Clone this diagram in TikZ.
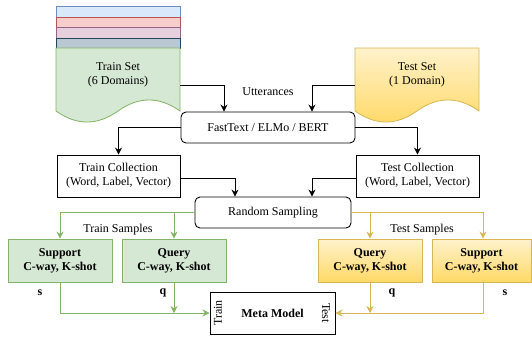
\documentclass[tikz,border=0pt]{standalone}
\usepackage{fontspec}
\setmainfont{Liberation Serif}
\usetikzlibrary{arrows.meta}
\definecolor{gfill}{HTML}{D5E8D4}
\definecolor{gline}{HTML}{82B366}
\definecolor{bfill}{HTML}{DAE8FC}
\definecolor{bline}{HTML}{6C8EBF}
\definecolor{rfill}{HTML}{F8CECC}
\definecolor{rline}{HTML}{B85450}
\definecolor{pfill}{HTML}{E6D0DE}
\definecolor{pline}{HTML}{996185}
\definecolor{dfill}{HTML}{BAC8D3}
\definecolor{dline}{HTML}{23445D}
\definecolor{ylight}{HTML}{FFF2CC}
\definecolor{ydark}{HTML}{FFD966}
\definecolor{yline}{HTML}{D6B656}
\begin{document}
\begin{tikzpicture}[x=1pt,y=-1pt,
  font=\fontsize{12}{14}\selectfont,
  box/.style={draw=black, line width=0.9pt, align=center, inner sep=0pt},
  rbox/.style={box, rounded corners=5pt},
  gbox/.style={draw=gline, fill=gfill, line width=0.9pt, align=center, inner sep=0pt, font=\fontsize{12}{14}\selectfont\bfseries, minimum width=104pt, minimum height=43pt},
  ybox/.style={draw=yline, top color=ylight, bottom color=ydark, line width=0.9pt, align=center, inner sep=0pt, font=\fontsize{12}{14}\selectfont\bfseries, minimum height=43pt},
  arr/.style={draw=black, line width=0.8pt, -{Stealth[length=7pt,width=7pt]}},
  garr/.style={draw=gline, line width=0.8pt, -{Stealth[length=7pt,width=7pt]}},
  yarr/.style={draw=yline, line width=0.8pt, -{Stealth[length=7pt,width=7pt]}},
  lbl/.style={inner sep=0pt}
]
\useasboundingbox (0,0) rectangle (532,338);
% Train set stack
\filldraw[fill=bfill, draw=bline, line width=0.8pt] (56,6) rectangle (180,17);
\filldraw[fill=rfill, draw=rline, line width=0.8pt] (56,17) rectangle (180,27);
\filldraw[fill=pfill, draw=pline, line width=0.8pt] (56,27) rectangle (180,38);
\filldraw[fill=dfill, draw=dline, line width=0.8pt] (56,38) rectangle (180,48);
\filldraw[fill=gfill, draw=gline, line width=0.8pt] (56,48) -- (180,48) -- (180,111)
  .. controls (159.3,96.3) and (138.7,96.3) .. (118,111)
  .. controls (97.3,125.7) and (76.7,125.7) .. (56,111) -- cycle;
\node[lbl, align=center] (trainset) at (118,75) {Train Set\\(6 Domains)};
% Test set
\path[top color=ylight, bottom color=ydark, draw=yline, line width=0.8pt] (355,48) -- (479,48) -- (479,111)
  .. controls (458.3,96.3) and (437.7,96.3) .. (417,111)
  .. controls (396.3,125.7) and (375.7,125.7) .. (355,111) -- cycle;
\node[lbl, align=center] (testset) at (417,75) {Test Set\\(1 Domain)};
\coordinate (trainout) at (180,85);
\coordinate (testout) at (355,85);

\node[rbox, minimum width=174pt, minimum height=31pt] (fast) at (268,127.5) {FastText / ELMo / BERT};
\node[lbl] (utt) at (268,92) {Utterances};
\node[box, minimum width=123pt, minimum height=42pt] (traincoll) at (118.5,176) {Train Collection\\(Word, Label, Vector)};
\node[box, minimum width=123pt, minimum height=42pt] (testcoll) at (417.5,176) {Test Collection\\(Word, Label, Vector)};
\node[rbox, minimum width=156pt, minimum height=31pt] (rs) at (273,212.5) {Random Sampling};

\node[gbox] (sg) at (60,260.5) {Support\\C-way, K-shot};
\node[gbox] (qg) at (174,260.5) {Query\\C-way, K-shot};
\node[ybox, minimum width=104pt] (qy) at (370,260.5) {Query\\C-way, K-shot};
\node[ybox, minimum width=99pt] (sy) at (481.5,260.5) {Support\\C-way, K-shot};

\node[box, minimum width=125pt, minimum height=42pt, font=\fontsize{12}{14}\selectfont\bfseries] (meta) at (272.5,313) {Meta Model};
\node[lbl, rotate=90] (trainlbl) at (218,313) {Train};
\node[lbl, rotate=-90] (testlbl) at (326,313) {Test};

\node[lbl] (trs) at (118,230) {Train Samples};
\node[lbl] (tes) at (422,230) {Test Samples};
\node[lbl, font=\fontsize{12}{14}\selectfont\bfseries] (s1) at (40,293) {s};
\node[lbl, font=\fontsize{12}{14}\selectfont\bfseries] (q1) at (163,293) {q};
\node[lbl, font=\fontsize{12}{14}\selectfont\bfseries] (q2) at (392,293) {q};
\node[lbl, font=\fontsize{12}{14}\selectfont\bfseries] (s2) at (505,293) {s};

% connectors
\draw[arr] (trainout) -| ([xshift=-44pt]fast.north);
\draw[arr] (testout) -| ([xshift=44pt]fast.north);
\draw[arr] (fast.west) -| (traincoll.north);
\draw[arr] (fast.east) -| (testcoll.north);
\draw[arr] ([yshift=-2pt]traincoll.east) -| ([xshift=-38pt]rs.north);
\draw[arr] ([yshift=-2pt]testcoll.west) -| ([xshift=39pt]rs.north);
\draw[garr] (rs.west) -| (sg.north);
\draw[garr] (rs.west) -| (qg.north);
\draw[yarr] (rs.east) -| ([xshift=1.5pt]sy.north);
\draw[yarr] (rs.east) -| (qy.north);
\draw[garr] (sg.south) |- (meta.west);
\draw[garr] (qg.south) -- (qg.south |- meta.west);
\draw[yarr] ([xshift=1.5pt]sy.south) |- (meta.east);
\draw[yarr] (qy.south) -- (qy.south |- meta.east);
\end{tikzpicture}
\end{document}
